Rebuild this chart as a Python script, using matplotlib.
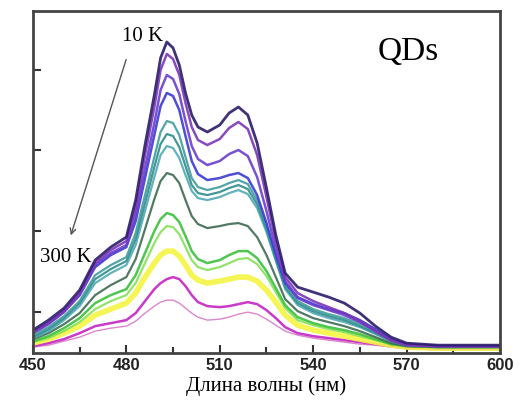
""" PL spectra of QDs, 10 K - 300 K """

from matplotlib import pyplot as plt

# Wavelength grid (nm) and intensities (arb. units).
wl = [450, 455, 460, 465, 470, 475, 480, 483, 486, 489, 491, 493, 495, 497,
      499, 501, 503, 506, 510, 513, 516, 519, 522, 525, 528, 531, 535, 540,
      545, 550, 555, 560, 565, 570, 580, 590, 600]

i_10k = [23, 33, 45, 63, 93, 106, 116, 153, 208, 258, 295, 311, 305, 288,
         260, 238, 226, 221, 228, 240, 246, 238, 210, 165, 118, 80, 66, 61,
         56, 50, 40, 27, 16, 10, 8, 8, 8]
i_2 = [21, 30, 42, 60, 90, 103, 112, 145, 198, 246, 283, 299, 294, 278,
       250, 226, 213, 208, 214, 225, 231, 224, 198, 156, 112, 76, 60, 52,
       46, 40, 32, 22, 13, 8, 7, 7, 7]
i_3 = [20, 29, 41, 58, 88, 100, 108, 138, 185, 230, 263, 278, 274, 259,
       232, 207, 194, 188, 192, 199, 203, 197, 176, 142, 104, 72, 55, 48,
       43, 38, 31, 22, 13, 8, 7, 7, 7]
i_4 = [21, 30, 42, 58, 86, 98, 106, 132, 175, 218, 247, 260, 257, 243,
       217, 192, 179, 173, 175, 178, 180, 175, 158, 130, 98, 70, 56, 49,
       44, 40, 33, 24, 14, 9, 7, 7, 7]
i_5 = [18, 26, 37, 52, 78, 88, 96, 120, 158, 196, 221, 232, 230, 218,
       196, 175, 166, 163, 166, 170, 173, 169, 153, 127, 96, 68, 52, 44,
       39, 35, 29, 21, 13, 8, 7, 7, 7]
i_6 = [16, 24, 35, 50, 74, 84, 92, 114, 150, 186, 209, 219, 217, 206,
       187, 168, 160, 158, 161, 165, 168, 164, 149, 124, 94, 66, 50, 42,
       37, 33, 27, 20, 12, 8, 7, 7, 7]
i_7 = [15, 22, 33, 47, 70, 80, 88, 108, 142, 176, 198, 207, 205, 195,
       178, 162, 155, 153, 156, 160, 163, 159, 145, 121, 92, 64, 48, 40,
       35, 31, 26, 19, 12, 8, 7, 7, 7]
i_8 = [14, 20, 29, 40, 58, 68, 76, 94, 124, 154, 172, 180, 178, 170,
       153, 137, 129, 125, 127, 129, 130, 127, 116, 98, 76, 54, 42, 35,
       31, 27, 22, 16, 10, 7, 6, 6, 6]
i_9 = [12, 17, 25, 35, 50, 58, 64, 78, 100, 122, 134, 140, 138, 131,
       117, 102, 94, 90, 93, 98, 102, 102, 95, 82, 65, 48, 36, 30,
       26, 23, 19, 14, 9, 7, 6, 6, 6]
i_10 = [11, 15, 22, 31, 44, 52, 58, 70, 90, 110, 121, 127, 126, 119,
        106, 93, 86, 83, 86, 90, 94, 95, 89, 77, 61, 45, 33, 28,
        24, 21, 17, 13, 9, 7, 6, 6, 6]
i_11 = [10, 14, 20, 27, 38, 44, 50, 60, 76, 90, 98, 102, 102, 97,
        88, 78, 73, 70, 72, 74, 76, 76, 72, 63, 51, 38, 28, 23,
        20, 17, 14, 11, 8, 6, 5, 5, 5]
i_12 = [7, 10, 14, 20, 27, 30, 33, 40, 52, 64, 70, 74, 76, 74,
        67, 58, 51, 47, 46, 47, 49, 51, 49, 43, 35, 26, 20, 17,
        15, 13, 11, 9, 7, 5, 4, 4, 4]
i_300k = [6, 8, 12, 16, 22, 25, 27, 32, 40, 47, 51, 53, 53, 50,
          45, 40, 36, 33, 34, 36, 39, 41, 39, 34, 28, 22, 18, 15,
          13, 11, 9, 8, 6, 5, 4, 4, 4]

spectra = [i_10k, i_2, i_3, i_4, i_5, i_6, i_7, i_8, i_9, i_10, i_11, i_12, i_300k]
colors = ['#2b1c6a', '#7d36b8', '#6b3fcc', '#3b3bd2', '#3f9c9e', '#2f8c8c',
          '#52aab4', '#3f6a52', '#3cc03c', '#86e05a', '#f4f444', '#c424c4',
          '#d77ac8']
widths = [2, 1.8, 1.8, 1.8, 1.6, 1.6, 1.6, 1.6, 1.8, 1.6, 4, 1.8, 1.0]

fig = plt.figure(figsize=(5.22, 4.05), dpi=100)
ax = fig.add_axes([0.063, 0.128, 0.895, 0.845])

for y, c, w in zip(spectra[::-1], colors[::-1], widths[::-1]):
    ax.plot(wl, y, color=c, linewidth=w, alpha=0.9, solid_joinstyle='round')

ax.set_xlim(450, 600)
ax.set_ylim(0, 342)
ax.set_xticks([450, 480, 510, 540, 570, 600])
ax.set_xticks([465, 495, 525, 555, 585], minor=True)
ax.set_yticks([41, 122, 203, 283])
ax.set_yticklabels([])
ax.tick_params(axis='both', which='both', direction='in', color='#333333',
               width=1.5, top=False, right=False)
ax.tick_params(axis='both', which='major', length=6)
ax.tick_params(axis='x', which='minor', length=4)
for lbl in ax.get_xticklabels():
    lbl.set_fontfamily('Liberation Sans')
    lbl.set_fontweight('bold')
    lbl.set_fontsize(12)
    lbl.set_color('#222222')
for s in ax.spines.values():
    s.set_color('#444444')
    s.set_linewidth(2)

serif = 'Liberation Serif'
ax.set_xlabel('Длина волны (нм)', family=serif, fontsize=15, labelpad=2)
ax.text(570.5, 301, 'QDs', family=serif, fontsize=24, ha='center', va='center')
ax.text(485.3, 316, '10 K', family=serif, fontsize=15, ha='center', va='center')
ax.text(460.6, 96, '300 K', family=serif, fontsize=15, ha='center', va='center')
ax.annotate('', xy=(461.9, 115), xytext=(480.2, 296),
            arrowprops=dict(arrowstyle='->', color='#555555', lw=1))

plt.savefig('out.png', dpi=100)
